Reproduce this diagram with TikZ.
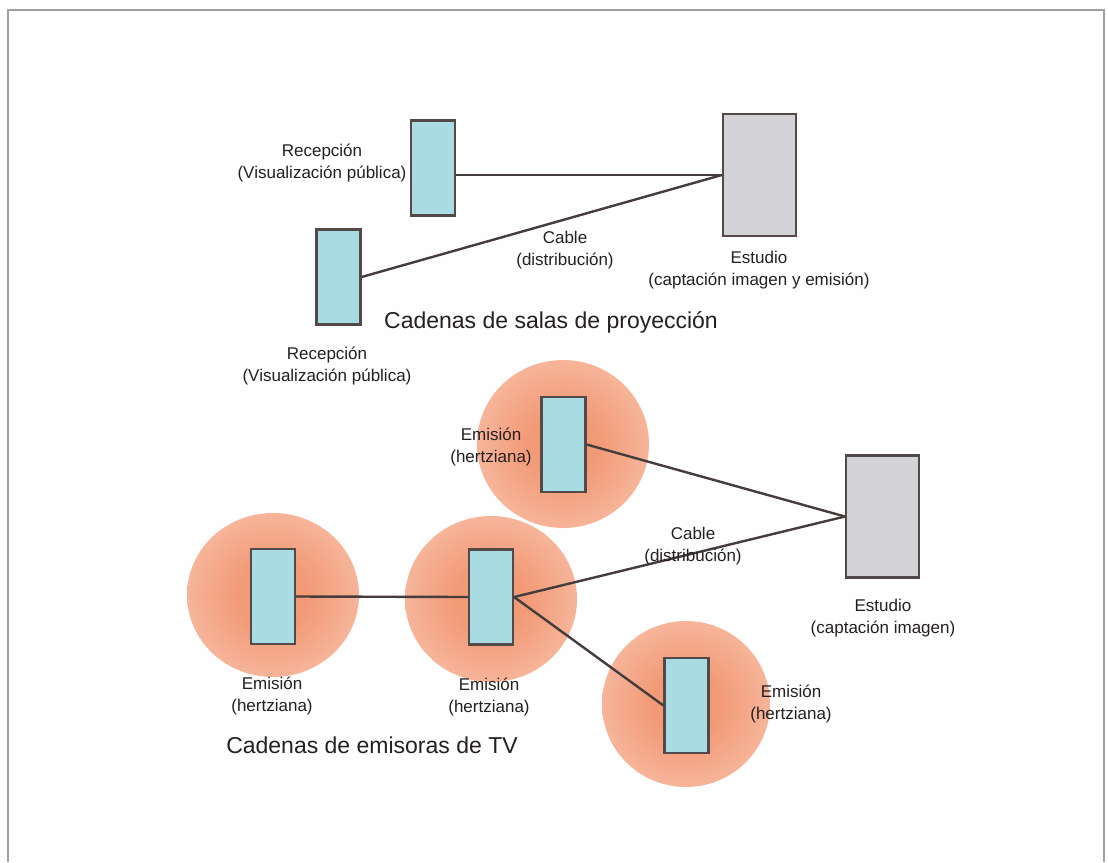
\documentclass[tikz,border=0pt]{standalone}
\usepackage{fontspec}
\setmainfont{Liberation Sans}
\definecolor{boxcyan}{HTML}{A8DCE2}
\definecolor{boxgray}{HTML}{D3D3D7}
\definecolor{edgec}{HTML}{524948}
\definecolor{wirec}{HTML}{463C3C}
\definecolor{glowin}{HTML}{F29A76}
\definecolor{glowout}{HTML}{FACFBE}
\definecolor{ink}{HTML}{252020}
\definecolor{framec}{HTML}{A0A0A0}
\pgfdeclareradialshading{glow}{\pgfpointorigin}{color(0bp)=(glowin); color(10bp)=(glowin); color(40bp)=(glowout); color(50bp)=(glowout)}
\begin{document}
\begin{tikzpicture}[x=1pt,y=-1pt,
  rx/.style={draw=edgec,line width=2.2pt,fill=boxcyan,minimum width=44pt,minimum height=95pt,inner sep=0pt},
  studio/.style={draw=edgec,line width=2.2pt,fill=boxgray,minimum width=73pt,minimum height=122pt,inner sep=0pt},
  lbl/.style={text=ink,align=center,font=\fontsize{17}{22}\selectfont,inner sep=0pt},
  ttl/.style={text=ink,font=\fontsize{23}{28}\selectfont,inner sep=0pt},
  wire/.style={draw=wirec,line width=2.4pt}]
  \useasboundingbox (0,0) rectangle (1108,862);
  \fill[black!0.5] (20,60) rectangle (1095,821);
  \draw[framec,line width=1.5pt] (8,862) -- (8,10) -- (1104,10) -- (1104,862);
  % radio coverage
  \shade[shading=glow] (563,444) ellipse [x radius=86pt, y radius=84pt];
  \shade[shading=glow] (491,599) ellipse [x radius=86pt, y radius=83pt];
  \shade[shading=glow] (273,595) ellipse [x radius=86pt, y radius=82pt];
  \shade[shading=glow] (686,704) ellipse [x radius=84pt, y radius=83pt];
  % cinema chain
  \node[rx] (rec1) at (433,168) {};
  \node[rx] (rec2) at (338.5,277) {};
  \node[studio] (est1) at (759.5,175) {};
  \draw[wire] (rec1.east |- est1.west) -- (est1.west);
  \draw[wire] (rec2.east) -- (est1.west);
  % tv chain
  \node[rx] (em1) at (563.5,444.5) {};
  \node[rx] (em2) at (491,597) {};
  \node[rx] (em3) at (273,596.5) {};
  \node[rx] (em4) at (686.5,705.5) {};
  \node[studio] (est2) at (882.5,516.5) {};
  \draw[wire] (em1.east) -- (est2.west);
  \draw[wire] (em2.east) -- (est2.west);
  \draw[wire] (em3.east) -- (em2.west);
  \draw[wire] (em2.east) -- (em4.west);
  % labels
  \node[lbl] (lrec1) at (322,163) {Recepción\\(Visualización pública)};
  \node[lbl] (lrec2) at (327,366) {Recepción\\(Visualización pública)};
  \node[lbl] (lcab1) at (565,250) {Cable\\(distribución)};
  \node[lbl] (lest1) at (759,270) {Estudio\\(captación imagen y emisión)};
  \node[ttl] (tit1) at (551,322) {Cadenas de salas de proyección};
  \node[lbl] (lem1) at (491,447) {Emisión\\(hertziana)};
  \node[lbl] (lcab2) at (693,546) {Cable\\(distribución)};
  \node[lbl] (lest2) at (883,618) {Estudio\\(captación imagen)};
  \node[lbl] (lem3) at (272,696) {Emisión\\(hertziana)};
  \node[lbl] (lem2) at (489,697) {Emisión\\(hertziana)};
  \node[lbl] (lem4) at (791,704) {Emisión\\(hertziana)};
  \node[ttl] (tit2) at (372,745) {Cadenas de emisoras de TV};
\end{tikzpicture}
\end{document}
